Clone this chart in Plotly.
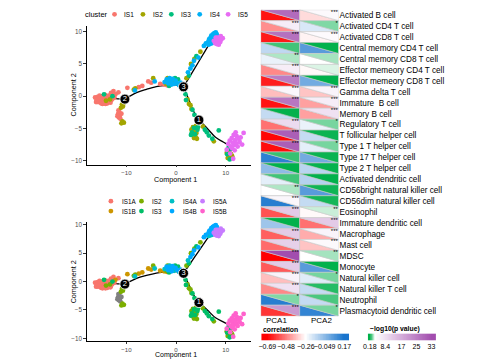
import plotly.graph_objects as go
from plotly.colors import sample_colorscale
import numpy as np

# page body has an 8px default margin: the figure is drawn offset by (8, 8) in the 500x360 window
OFF = 8
W, H = 500 - OFF, 360 - OFF
FONT = "Liberation Sans, Arial, Helvetica, sans-serif"

# ---------------- trajectory data: (Component 1, Component 2) ----------------
pts_IS1_IS1A = [(-16.3,-0.2),(-16.0,-0.6),(-15.8,-0.1),(-15.7,-0.9),(-15.5,-0.4),(-15.4,0.1),(-15.2,-0.7),(-15.1,-1.1),
    (-15.0,-0.3),(-14.9,-0.8),(-14.8,0.0),(-14.7,-0.5),(-14.6,-1.0),(-14.5,-0.2),(-14.4,-0.7),(-14.3,0.2),
    (-14.2,-0.4),(-14.1,-0.9),(-14.0,-0.1),(-13.9,-0.6),(-13.8,-1.1),(-13.7,-0.3),(-13.6,0.1),(-13.5,-0.8),
    (-13.4,-0.5),(-13.3,-0.2),(-13.2,-1.0),(-13.0,-0.6),(-12.9,-0.1),(-12.8,-0.4),(-12.6,0.3),(-12.4,-0.2),
    (-16.1,-0.9),(-15.6,-0.5),(-15.3,-0.2),(-14.8,-1.2),(-14.2,-1.2),(-13.1,0.5),(-12.6,0.8),(-11.6,0.6)]
pts_IS1_IS1B = [(-12.2,0.3),(-9.8,1.3),(-7.5,1.4),(-6.8,1.6),(-5.6,2.3),(-5.0,2.1),(-3.2,1.9),(-2.4,1.8),(-1.8,1.7)]
pts_IS1_NA = [(-11.6,-2.2),(-11.4,-2.5),(-11.7,-2.8),(-11.3,-3.0),(-11.5,-3.3),(-11.2,-3.5),(-11.0,-2.7),(-11.8,-3.1)]
pts_IS2 = [(-10.9,-1.3),(-10.7,-1.6),(-11.1,-1.8),(-10.6,-1.2),(-10.8,-3.9),(-10.5,-4.1),(-11.0,-4.2),
    (-13.3,-0.5),(-14.1,-0.7),(-8.2,1.2),(-8.5,1.0),(-4.6,2.8),
    (-2.0,1.9),(-1.2,2.6),(-0.6,2.2),(-1.7,2.8),
    (2.1,2.8),(3.0,5.0),(3.7,5.8),(4.9,6.9),
    (2.3,-0.5),(2.6,-1.2),(2.9,-1.4),(3.1,-2.0),
    (3.1,-5.2),(3.3,-6.0),(3.5,-5.5),(3.6,-6.5),(3.8,-5.0),(3.9,-6.2),(4.1,-5.7),(4.2,-6.6),(3.4,-4.8),(4.0,-4.6),
    (7.6,-7.0),(5.4,-4.7),
    (10.2,-8.8),(10.5,-9.2),(10.7,-8.5),(10.9,-9.5),(11.1,-9.0),(10.4,-9.6),(11.3,-9.3)]
pts_IS3 = [(-12.8,0.0),(-14.5,0.3),(-0.2,2.8),(0.4,2.6),(-1.4,1.6),(4.1,6.2),(2.6,3.2),
    (1.9,0.3),(3.3,-2.1),(3.7,-2.9),(2.0,-0.6),
    (3.2,-5.6),(3.6,-4.9),(3.8,-5.9),(4.3,-5.2),(4.4,-4.8),(3.0,-6.0),
    (5.8,-5.2),(6.2,-5.6),(6.6,-6.1),(8.6,-5.3),(7.3,-6.6),
    (10.3,-9.0),(10.8,-9.8),(11.0,-8.2),(10.6,-7.9)]
pts_IS4_IS4A = [(-8.3,0.9),(-4.3,2.3),(-2.3,2.2),(-1.3,2.8),(-0.4,1.9),(0.6,1.7),(6.4,8.3),(6.8,8.1),(7.2,8.2),(6.5,8.0),(2.4,3.7)]
pts_IS4_IS4B = [(-1.9,2.6),(-1.6,2.0),(-1.0,2.3),(-0.7,2.7),(-0.1,2.4),(0.3,2.0),(-1.5,2.5),(-0.9,1.8),(0.9,2.1),
    (2.9,4.3),(3.3,4.8),(3.6,5.5),(4.5,6.0),(5.6,7.8),(6.0,8.2),
    (6.6,8.7),(6.9,9.0),(7.0,8.5),(7.1,9.4),(7.3,8.8),(7.4,9.6),(7.5,9.1),(7.6,8.4),(7.7,9.8),(7.8,8.9),
    (7.9,9.3),(8.0,9.9),(8.2,9.6),(6.7,8.9),(7.3,9.2)]
pts_IS5_IS5A = [(7.6,8.6),(7.9,8.2),(8.1,8.7),(8.3,9.1),(8.5,8.5),(8.7,9.0),(8.9,8.4),(9.1,8.8),(9.4,9.0),
    (8.2,8.1),(8.6,8.0),(8.0,9.1),(9.0,9.3)]
pts_IS5_IS5B = [(10.5,-7.4),(10.8,-6.9),(11.0,-7.8),(11.2,-6.5),(11.4,-7.2),(11.6,-6.0),(11.7,-7.6),(11.9,-6.8),
    (12.1,-7.3),(12.2,-6.2),(12.4,-7.8),(12.6,-6.6),(12.8,-7.1),(13.0,-6.4),(13.3,-7.5),(13.6,-5.7),
    (11.3,-8.1),(10.2,-8.3),(11.8,-8.4),(11.5,-9.7),(10.9,-8.9),(12.0,-5.6)]

# principal graph (trajectory backbone)
traj_segments = [
    ([-14.8, -13.0, -11.5, -10.3], [-0.35, -0.3, -0.4, -0.45]),
    ([-10.3, -7.95, -5.96, -3.97, -2.0, 0.0, 1.5], [-0.45, 0.57, 1.08, 1.49, 1.7, 1.75, 1.45]),
    ([1.5, 3.66, 5.84, 7.6], [1.45, 4.2, 7.0, 9.2]),
    ([1.5, 2.66, 3.5, 4.6], [1.45, -0.71, -2.3, -3.7]),
    ([4.6, 6.3, 7.95, 9.5, 10.9], [-3.7, -5.0, -6.38, -7.1, -7.75]),
]
node_x = [4.6, -10.3, 1.5]
node_y = [-3.7, -0.45, 1.45]
node_lab = ["1", "2", "3"]

cluster_names = ["IS1", "IS2", "IS3", "IS4", "IS5"]
cluster_colors = ["#F8766D", "#A3A500", "#00BF7D", "#00B0F6", "#E76BF3"]
sub_names = ["IS1A", "IS1B", "IS2", "IS3", "IS4A", "IS4B", "IS5A", "IS5B"]
sub_colors = ["#F8766D", "#CD9600", "#7CAE00", "#00BE67", "#00BFC4", "#00A9FF", "#C77CFF", "#FF61CC"]
na_color = "#808080"

# ---------------- heatmap data ----------------
cell_types = ["Activated B cell", "Activated CD4 T cell", "Activated CD8 T cell", "Central memory CD4 T cell",
    "Central memory CD8 T cell", "Effector memeory CD4 T cell", "Effector memeory CD8 T cell", "Gamma delta T cell",
    "Immature  B cell", "Memory B cell", "Regulatory T cell", "T follicular helper cell", "Type 1 T helper cell",
    "Type 17 T helper cell", "Type 2 T helper cell", "Activated dendritic cell", "CD56bright natural killer cell",
    "CD56dim natural killer cell", "Eosinophil", "Immature dendritic cell", "Macrophage", "Mast cell", "MDSC",
    "Monocyte", "Natural killer cell", "Natural killer T cell", "Neutrophil", "Plasmacytoid dendritic cell"]
pcs = ["PCA1", "PCA2"]
corr_PCA1 = [-0.66, -0.45, -0.65, -0.14, -0.22, -0.46, -0.64, -0.37, -0.66, -0.15, -0.50, -0.68, -0.67, 0.13,
    -0.05, -0.21, -0.26, 0.14, -0.55, -0.08, -0.53, -0.51, -0.69, -0.54, -0.37, -0.46, 0.14, -0.60]
logp_PCA1 = [28, 6, 27, 0.9, 2.1, 6, 25, 4.5, 26, 0.2, 9, 30, 30, 0.8, 0.2, 0.9, 2.1, 4.5, 12, 0.2, 12, 11, 33,
    12, 5, 8, 1.6, 20]
stars_PCA1 = ["***", "***", "***", "", "**", "***", "***", "***", "***", "", "***", "***", "***", "", "", "",
    "**", "***", "***", "", "***", "***", "***", "***", "***", "***", "*", "***"]
corr_PCA2 = [-0.32, -0.19, -0.28, 0.05, -0.26, -0.27, 0.0, -0.36, -0.42, -0.42, -0.22, -0.15, -0.21, 0.0,
    -0.13, -0.12, 0.05, -0.15, -0.27, -0.50, -0.40, -0.36, -0.26, 0.05, -0.20, -0.15, -0.15, 0.12]
logp_PCA2 = [4, 1.6, 3.8, 0.2, 2.0, 2.6, 0.2, 5, 6, 8, 1.5, 0.3, 1.5, 0.3, 0.25, 0.2, 0.35, 0.4, 2.4, 12, 5, 4,
    2.0, 0.2, 1.5, 0.6, 1.0, 1.5]
stars_PCA2 = ["***", "*", "***", "", "", "", "", "***", "***", "***", "*", "", "*", "", "", "", "", "", "**",
    "***", "***", "***", "**", "", "*", "", "", "*"]

corr_ticks = [-0.69, -0.48, -0.26, -0.049, 0.17]
corr_tick_text = ["\u22120.69", "\u22120.48", "\u22120.26", "\u22120.049", "0.17"]
logp_ticks = [0.18, 8.4, 17, 25, 33]
logp_tick_text = ["0.18", "8.4", "17", "25", "33"]

# ---------------- colour scales ----------------
cmin, cmax = corr_ticks[0], corr_ticks[-1]
pmin, pmax = logp_ticks[0], logp_ticks[-1]
corr_scale = [[0, "#FF0000"], [0.5, "#FFFFFF"], [1, "#1874CD"]]
p_white = (3.0 - pmin) / (pmax - pmin)
p_scale = [[0, "#00B04A"], [p_white, "#FFFFFF"], [1, "#A24DAE"]]

def ccol(v):
    t = min(max((v - cmin) / (cmax - cmin), 0), 1)
    return sample_colorscale(corr_scale, [t])[0]

def pcol(v):
    t = min(max((v - pmin) / (pmax - pmin), 0), 1)
    return sample_colorscale(p_scale, [t])[0]

# window pixel -> paper domain
def xd(a, b):
    return [(a - OFF) / W, (b - OFF) / W]

def yd(top, bottom):
    return [1 - (bottom - OFF) / H, 1 - (top - OFF) / H]

fig = go.Figure()

# ---------------- trajectory plots ----------------
def add_points(pts, color, xa, ya, size=4.8):
    fig.add_trace(go.Scatter(x=[p[0] for p in pts], y=[p[1] for p in pts], mode="markers",
                             marker=dict(size=size, color=color, line=dict(width=0)),
                             xaxis=xa, yaxis=ya, showlegend=False, hoverinfo="skip"))

for xa, ya in [("x", "y"), ("x2", "y2")]:
    for sx, sy in traj_segments:
        fig.add_trace(go.Scatter(x=sx, y=sy, mode="lines", line=dict(color="black", width=1.3, shape="spline"),
                                 xaxis=xa, yaxis=ya, showlegend=False, hoverinfo="skip"))

top_groups = [pts_IS1_IS1A + pts_IS1_IS1B + pts_IS1_NA, pts_IS2, pts_IS3, pts_IS4_IS4A + pts_IS4_IS4B,
              pts_IS5_IS5A + pts_IS5_IS5B]
for pts, col in zip(top_groups, cluster_colors):
    add_points(pts, col, "x", "y")

add_points(pts_IS1_NA, na_color, "x2", "y2")
bottom_groups = [pts_IS1_IS1A, pts_IS1_IS1B, pts_IS2, pts_IS3, pts_IS4_IS4A, pts_IS4_IS4B, pts_IS5_IS5A, pts_IS5_IS5B]
for pts, col in zip(bottom_groups, sub_colors):
    add_points(pts, col, "x2", "y2")

for xa, ya in [("x", "y"), ("x2", "y2")]:
    fig.add_trace(go.Scatter(x=node_x, y=node_y, mode="markers+text", text=node_lab,
                             marker=dict(size=10, color="black", line=dict(width=0.8, color="white")),
                             textposition="middle center",
                             textfont=dict(family=FONT, size=7.5, color="white"),
                             xaxis=xa, yaxis=ya, showlegend=False, hoverinfo="skip"))

# ---------------- split-cell heatmap ----------------
for c, (corr, logp, stars) in enumerate([(corr_PCA1, logp_PCA1, stars_PCA1), (corr_PCA2, logp_PCA2, stars_PCA2)]):
    for i in range(len(cell_types)):
        fig.add_trace(go.Scatter(x=[c, c, c + 1, c], y=[i, i + 1, i + 1, i], mode="lines", fill="toself",
                                 fillcolor=ccol(corr[i]), line=dict(color="#C9C9C9", width=0.6),
                                 xaxis="x3", yaxis="y3", showlegend=False, hoverinfo="skip"))
        fig.add_trace(go.Scatter(x=[c, c + 1, c + 1, c], y=[i, i, i + 1, i], mode="lines", fill="toself",
                                 fillcolor=pcol(logp[i]), line=dict(color="#C9C9C9", width=0.6),
                                 xaxis="x3", yaxis="y3", showlegend=False, hoverinfo="skip"))
    fig.add_trace(go.Scatter(x=[c + 0.98] * len(cell_types), y=[i - 0.05 for i in range(len(cell_types))],
                             mode="text", text=stars, textposition="bottom left",
                             textfont=dict(family=FONT, size=6, color="black"),
                             xaxis="x3", yaxis="y3", showlegend=False, hoverinfo="skip"))

# colour legends
cbx = np.linspace(-0.756, 0.225, 120)
fig.add_trace(go.Heatmap(x=cbx, y=[0], z=[np.clip(cbx, cmin, cmax)], colorscale=corr_scale, zmin=cmin, zmax=cmax,
                         showscale=False, xaxis="x4", yaxis="y4", hoverinfo="skip"))
pbx = np.linspace(-0.87, 35.36, 120)
fig.add_trace(go.Heatmap(x=pbx, y=[0], z=[np.clip(pbx, pmin, pmax)], colorscale=p_scale, zmin=pmin, zmax=pmax,
                         showscale=False, xaxis="x5", yaxis="y5", hoverinfo="skip"))

# ---------------- legends & titles (overlay axis in window pixel units) ----------------
annotations = []
leg1_x = [111 + 28.8 * k for k in range(len(cluster_names))]
fig.add_trace(go.Scatter(x=leg1_x, y=[13.3] * len(leg1_x), mode="markers",
                         marker=dict(size=4.8, color=cluster_colors), xaxis="x6", yaxis="y6",
                         showlegend=False, hoverinfo="skip"))
annotations.append(dict(x=79, y=13.3, xref="x6", yref="y6", text="cluster", showarrow=False, xanchor="left",
                        yanchor="middle", font=dict(family=FONT, size=7.5, color="black")))
for k, nm in enumerate(cluster_names):
    annotations.append(dict(x=leg1_x[k] + 8, y=13.3, xref="x6", yref="y6", text=nm, showarrow=False,
                            xanchor="left", yanchor="middle", font=dict(family=FONT, size=6.5, color="black")))

leg2_x = [107.3 + 31.0 * (k // 2) for k in range(len(sub_names))]
leg2_y = [200.7 + 10.0 * (k % 2) for k in range(len(sub_names))]
fig.add_trace(go.Scatter(x=leg2_x, y=leg2_y, mode="markers", marker=dict(size=4.8, color=sub_colors),
                         xaxis="x6", yaxis="y6", showlegend=False, hoverinfo="skip"))
for k, nm in enumerate(sub_names):
    annotations.append(dict(x=leg2_x[k] + 9, y=leg2_y[k], xref="x6", yref="y6", text=nm, showarrow=False,
                            xanchor="left", yanchor="middle", font=dict(family=FONT, size=6.3, color="black")))

# axis titles of the two trajectory panels
annotations.append(dict(x=173.3, y=179.2, xref="x6", yref="y6", text="Component 1", showarrow=False,
                        xanchor="center", yanchor="middle", borderpad=0,
                        font=dict(family=FONT, size=7.2, color="black")))
annotations.append(dict(x=173.3, y=359.8, xref="x6", yref="y6", text="Component 1", showarrow=False,
                        xanchor="center", yanchor="bottom", borderpad=0,
                        font=dict(family=FONT, size=7.0, color="black")))
for ylab in [94.5, 282]:
    annotations.append(dict(x=69, y=ylab, xref="x6", yref="y6", text="Component 2", showarrow=False,
                            textangle=-90, xanchor="center", yanchor="middle", borderpad=0,
                            font=dict(family=FONT, size=7.2, color="black")))

annotations.append(dict(x=260, y=329.3, xref="x6", yref="y6", text="<b>correlation</b>", showarrow=False,
                        xanchor="left", yanchor="middle", font=dict(family=FONT, size=6.8, color="black")))
annotations.append(dict(x=368, y=329.3, xref="x6", yref="y6", text="<b>\u2212log10(p value)</b>", showarrow=False,
                        xanchor="left", yanchor="middle", font=dict(family=FONT, size=6.8, color="black")))
for x_pc, nm in zip([275, 320.5], pcs):
    annotations.append(dict(x=x_pc, y=320.3, xref="x6", yref="y6", text=nm, showarrow=False,
                            xanchor="center", yanchor="middle",
                            font=dict(family=FONT, size=8, color="black")))

# ---------------- layout ----------------
scat_x = dict(range=[-18, 15], tickvals=[-10, 0, 10], ticktext=["\u221210", "0", "10"], ticks="outside",
              ticklen=2, tickwidth=0.8, tickcolor="#333333", showline=True, linecolor="black", linewidth=0.8,
              showgrid=False, zeroline=False, tickfont=dict(family=FONT, size=6.1, color="#4D4D4D"))
scat_y = dict(tickvals=[-10, -5, 0, 5, 10], ticktext=["\u221210", "\u22125", "0", "5", "10"], ticks="outside",
              ticklen=2.5, tickwidth=0.8, tickcolor="#333333", showline=True, linecolor="black", linewidth=0.8,
              showgrid=False, zeroline=False, tickfont=dict(family=FONT, size=6.3, color="#4D4D4D"))
hidden = dict(visible=False, showgrid=False, zeroline=False)

fig.update_layout(
    width=W, height=H, margin=dict(l=0, r=0, t=0, b=0),
    paper_bgcolor="white", plot_bgcolor="rgba(0,0,0,0)", showlegend=False,
    font=dict(family=FONT),
    xaxis=dict(scat_x, domain=xd(82.7, 249), anchor="y"),
    yaxis=dict(scat_y, domain=yd(25, 164), range=[-10.6, 10.9], anchor="x"),
    xaxis2=dict(scat_x, domain=xd(82.7, 249), anchor="y2"),
    yaxis2=dict(scat_y, domain=yd(221.7, 341.3), range=[-10.52, 10.46], anchor="x2"),
    xaxis3=dict(domain=xd(259.3, 338.3), range=[0, 2], anchor="y3", showticklabels=False,
                showgrid=False, zeroline=False, showline=False, ticks=""),
    yaxis3=dict(domain=yd(8.7, 316), range=[len(cell_types), 0], anchor="x3", side="right",
                tickvals=[i + 0.5 for i in range(len(cell_types))], ticktext=cell_types,
                showgrid=False, zeroline=False, showline=False, ticks="",
                tickfont=dict(family=FONT, size=8.2, color="black")),
    xaxis4=dict(domain=xd(260, 349), range=[-0.756, 0.225], anchor="y4", tickvals=corr_ticks,
                ticktext=corr_tick_text, tickangle=0, showgrid=False, zeroline=False, showline=False, ticks="",
                tickfont=dict(family=FONT, size=7, color="black")),
    yaxis4=dict(hidden, domain=yd(333.3, 340.7), range=[-0.5, 0.5], anchor="x4"),
    xaxis5=dict(domain=xd(368, 437), range=[-0.87, 35.36], anchor="y5", tickvals=logp_ticks,
                ticktext=logp_tick_text, tickangle=0, showgrid=False, zeroline=False, showline=False, ticks="",
                tickfont=dict(family=FONT, size=7, color="black")),
    yaxis5=dict(hidden, domain=yd(333.3, 340.7), range=[-0.5, 0.5], anchor="x5"),
    xaxis6=dict(hidden, domain=[0, 1], range=[OFF, 500], anchor="y6"),
    yaxis6=dict(hidden, domain=[0, 1], range=[360, OFF], anchor="x6"),
    annotations=annotations,
)

fig.write_html("out.html")
